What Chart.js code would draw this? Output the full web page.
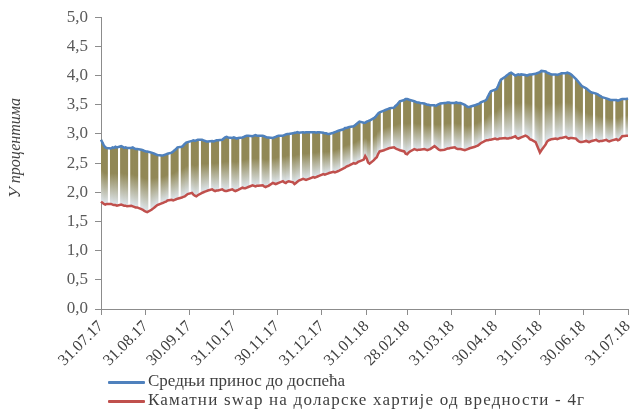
<!DOCTYPE html>
<html lang="sr">
<head>
<meta charset="UTF-8">
<title>Принос и каматни swap</title>
<script src="https://cdn.jsdelivr.net/npm/chart.js@4.4.1/dist/chart.umd.min.js"></script>
<style>
  body { margin: 0; background: #fff; }
  #wrap { position: relative; width: 635px; height: 414px; }
  #legend { position: absolute; left: 108px; top: 371px; font: 17px "Liberation Serif", "Times New Roman", serif; color: #404040; }
  #legend div { height: 19px; line-height: 19px; white-space: nowrap; }
  #legend div + div { letter-spacing: 1.2px; }
  #legend span { display: inline-block; width: 37px; height: 3px; vertical-align: middle; margin-right: 3px; border-radius: 1px; letter-spacing: 0; }
  #ytitle { position: absolute; left: 15px; top: 148px; transform: translate(-50%, -50%) rotate(-90deg);
            font: italic 16px "Liberation Serif", "Times New Roman", serif; color: #404040; white-space: nowrap;
            font-feature-settings: "locl" 0; }
</style>
</head>
<body>
<div id="wrap">
  <canvas id="chart" width="635" height="414"></canvas>
  <div id="ytitle" lang="ru">У процентима</div>
  <div id="legend"></div>
</div>
<script>
// series names
var seriesNames = ["Средњи принос до доспећа", "Каматни swap на доларске хартије од вредности - 4г"];

// month-end tick labels shown on the x axis
var tickLabels = ["31.07.17", "31.08.17", "30.09.17", "31.10.17", "30.11.17", "31.12.17",
                  "31.01.18", "28.02.18", "31.03.18", "30.04.18", "31.05.18", "30.06.18", "31.07.18"];

// working days from Mon 31.07.17 to Tue 31.07.18, one row per week (Mon..Fri), in %
var yieldVals = [
  2.90, 2.85, 2.80, 2.77, 2.76,
  2.75, 2.77, 2.76, 2.78, 2.77,
  2.79, 2.78, 2.76, 2.77, 2.76,
  2.76, 2.77, 2.75, 2.74, 2.74,
  2.73, 2.72, 2.71, 2.70, 2.70,
  2.68, 2.67, 2.66, 2.65, 2.64,
  2.63, 2.63, 2.64, 2.65, 2.66,
  2.68, 2.70, 2.72, 2.74, 2.77,
  2.78, 2.80, 2.83, 2.85, 2.86,
  2.88, 2.89, 2.88, 2.89, 2.90,
  2.90, 2.89, 2.88, 2.87, 2.87,
  2.88, 2.87, 2.88, 2.89, 2.89,
  2.90, 2.92, 2.94, 2.95, 2.94,
  2.93, 2.94, 2.93, 2.92, 2.93,
  2.94, 2.95, 2.96, 2.97, 2.97,
  2.96, 2.97, 2.98, 2.97, 2.97,
  2.97, 2.96, 2.95, 2.94, 2.94,
  2.93, 2.94, 2.95, 2.96, 2.97,
  2.97, 2.98, 2.99, 3.00, 3.00,
  3.01, 3.02, 3.02, 3.03, 3.02,
  3.03, 3.02, 3.03, 3.03, 3.03,
  3.03, 3.03, 3.02, 3.03, 3.03,
  3.02, 3.01, 3.01, 3.00, 3.00,
  3.02, 3.03, 3.04, 3.05, 3.06,
  3.08, 3.10, 3.10, 3.11, 3.12,
  3.13, 3.15, 3.17, 3.19, 3.21,
  3.19, 3.19, 3.21, 3.22, 3.23,
  3.27, 3.29, 3.32, 3.35, 3.37,
  3.40, 3.41, 3.42, 3.43, 3.44,
  3.45, 3.48, 3.50, 3.53, 3.56,
  3.58, 3.60, 3.60, 3.59, 3.58,
  3.56, 3.55, 3.54, 3.54, 3.53,
  3.52, 3.51, 3.50, 3.50, 3.49,
  3.49, 3.48, 3.50, 3.51, 3.52,
  3.53, 3.53, 3.54, 3.54, 3.53,
  3.53, 3.54, 3.53, 3.53, 3.53,
  3.50, 3.48, 3.46, 3.46, 3.47,
  3.49, 3.50, 3.51, 3.52, 3.54,
  3.57, 3.59, 3.64, 3.69, 3.73,
  3.76, 3.77, 3.82, 3.88, 3.93,
  3.98, 4.00, 4.02, 4.04, 4.05,
  4.00, 4.01, 4.02, 4.01, 4.02,
  4.01, 4.00, 4.01, 4.02, 4.02,
  4.03, 4.04, 4.05, 4.06, 4.08,
  4.07, 4.05, 4.04, 4.03, 4.02,
  4.02, 4.01, 4.02, 4.03, 4.04,
  4.04, 4.05, 4.04, 4.03, 4.01,
  3.94, 3.91, 3.88, 3.85, 3.82,
  3.78, 3.76, 3.74, 3.72, 3.71,
  3.69, 3.68, 3.66, 3.65, 3.63,
  3.61, 3.60, 3.59, 3.58, 3.58,
  3.58, 3.57, 3.58, 3.59, 3.60,
  3.60, 3.61
];

var swapVals = [
  1.84, 1.82, 1.80, 1.79, 1.80,
  1.80, 1.79, 1.78, 1.78, 1.77,
  1.79, 1.78, 1.77, 1.77, 1.76,
  1.77, 1.76, 1.75, 1.74, 1.74,
  1.71, 1.70, 1.68, 1.67, 1.66,
  1.70, 1.72, 1.74, 1.76, 1.78,
  1.81, 1.82, 1.83, 1.84, 1.86,
  1.87, 1.86, 1.87, 1.88, 1.89,
  1.91, 1.92, 1.93, 1.95, 1.97,
  1.99, 1.96, 1.94, 1.93, 1.95,
  1.99, 2.00, 2.01, 2.02, 2.03,
  2.05, 2.03, 2.02, 2.03, 2.03,
  2.05, 2.03, 2.02, 2.02, 2.03,
  2.05, 2.03, 2.02, 2.03, 2.04,
  2.08, 2.07, 2.07, 2.08, 2.09,
  2.12, 2.11, 2.10, 2.11, 2.11,
  2.12, 2.10, 2.09, 2.10, 2.11,
  2.16, 2.15, 2.14, 2.15, 2.16,
  2.19, 2.17, 2.16, 2.18, 2.19,
  2.17, 2.14, 2.16, 2.18, 2.20,
  2.23, 2.22, 2.21, 2.22, 2.23,
  2.26, 2.25, 2.26, 2.27, 2.28,
  2.31, 2.30, 2.31, 2.32, 2.33,
  2.35, 2.34, 2.35, 2.36, 2.37,
  2.41, 2.42, 2.44, 2.45, 2.46,
  2.50, 2.49, 2.50, 2.52, 2.53,
  2.56, 2.62, 2.58, 2.51, 2.49,
  2.55, 2.58, 2.60, 2.66, 2.70,
  2.72, 2.73, 2.74, 2.75, 2.76,
  2.77, 2.75, 2.74, 2.73, 2.72,
  2.70, 2.66, 2.65, 2.68, 2.70,
  2.74, 2.73, 2.72, 2.73, 2.73,
  2.74, 2.73, 2.72, 2.73, 2.74,
  2.79, 2.77, 2.75, 2.73, 2.72,
  2.73, 2.74, 2.75, 2.75, 2.76,
  2.77, 2.75, 2.74, 2.74, 2.74,
  2.72, 2.73, 2.74, 2.75, 2.76,
  2.78, 2.79, 2.80, 2.82, 2.84,
  2.88, 2.89, 2.89, 2.90, 2.90,
  2.92, 2.91, 2.91, 2.92, 2.92,
  2.93, 2.92, 2.92, 2.93, 2.93,
  2.96, 2.93, 2.92, 2.93, 2.94,
  2.97, 2.96, 2.94, 2.91, 2.90,
  2.86, 2.80, 2.74, 2.68, 2.72,
  2.82, 2.87, 2.89, 2.90, 2.91,
  2.92, 2.91, 2.92, 2.93, 2.93,
  2.95, 2.93, 2.92, 2.93, 2.93,
  2.92, 2.89, 2.87, 2.86, 2.86,
  2.88, 2.87, 2.86, 2.87, 2.88,
  2.90, 2.88, 2.87, 2.88, 2.88,
  2.90, 2.88, 2.87, 2.88, 2.89,
  2.91, 2.89, 2.90, 2.93, 2.96,
  2.97, 2.97
];

var blue = "rgb(79,129,189)";
var red = "rgb(192,80,77)";
var olive = "rgb(145,136,86)";
var pale = "rgb(224,232,240)";

// calendar days on the axis; weekends stay empty (null)
var labels = [], yieldDaily = [], swapDaily = [], bands = [];
var start = Date.UTC(2017, 6, 31), k = 0;
function pad(n) { return (n < 10 ? "0" : "") + n; }
for (var i = 0; i <= 365; i++) {
  var d = new Date(start + i * 864e5);
  labels.push(pad(d.getUTCDate()) + "." + pad(d.getUTCMonth() + 1) + "." + String(d.getUTCFullYear()).slice(2));
  var wd = d.getUTCDay();
  if (wd === 0 || wd === 6) {
    yieldDaily.push(null); swapDaily.push(null); bands.push(null);
  } else {
    yieldDaily.push(yieldVals[k]); swapDaily.push(swapVals[k]);
    bands.push([swapVals[k], yieldVals[k]]);
    k++;
  }
}

// gradient per bar: olive on top, fading to pale at the swap line
function bandFill(c) {
  var chart = c.chart;
  if (!chart.chartArea || c.type !== "data" || !c.raw) return olive;
  var ys = chart.scales.y;
  var top = ys.getPixelForValue(c.raw[1]), bot = ys.getPixelForValue(c.raw[0]);
  if (!isFinite(top) || !isFinite(bot) || bot - top < 1) return olive;
  var g = chart.ctx.createLinearGradient(0, top, 0, bot);
  g.addColorStop(0, olive);
  g.addColorStop(0.45, olive);
  g.addColorStop(1, pale);
  return g;
}

Chart.defaults.font.family = "'Liberation Serif', 'Times New Roman', serif";
Chart.defaults.color = "#595959";

new Chart(document.getElementById("chart"), {
  type: "bar",
  data: {
    labels: labels,
    datasets: [
      { type: "line", label: seriesNames[0], data: yieldDaily, borderColor: blue, borderWidth: 2.5,
        pointRadius: 0, spanGaps: true, tension: 0, order: 0 },
      { type: "line", label: seriesNames[1], data: swapDaily, borderColor: red, borderWidth: 2.5,
        pointRadius: 0, spanGaps: true, tension: 0, order: 1 },
      { type: "bar", label: "band", data: bands, backgroundColor: bandFill, borderWidth: 0,
        barPercentage: 1, categoryPercentage: 1, inflateAmount: 0.4, order: 2 }
    ]
  },
  options: {
    responsive: false,
    animation: false,
    layout: { padding: { left: 0, right: 7, top: 15, bottom: 45 } },
    plugins: { legend: { display: false }, tooltip: { enabled: false } },
    scales: {
      x: {
        offset: false,
        afterFit: function (s) { s.height = 60; s.paddingRight = 0; },
        grid: { display: true, drawOnChartArea: false, offset: false, tickLength: 6, color: "#8c8c8c" },
        border: { color: "#8c8c8c" },
        ticks: {
          autoSkip: false, maxRotation: 45, minRotation: 45, padding: 2,
          font: { size: 16 }, color: "#404040",
          callback: function (v, i) { return tickLabels.indexOf(labels[i]) >= 0 ? labels[i] : null; }
        }
      },
      y: {
        min: 0, max: 5,
        afterFit: function (s) { s.width = 101; },
        grid: { display: true, drawOnChartArea: false, tickLength: 6, color: "#8c8c8c" },
        border: { color: "#8c8c8c" },
        ticks: { stepSize: 0.5, padding: 7, font: { size: 17 }, color: "#595959",
                 callback: function (v) { return v.toFixed(1).replace(".", ","); } }
      }
    }
  }
});

// legend below the chart
var lg = document.getElementById("legend");
[blue, red].forEach(function (c, i) {
  var row = document.createElement("div");
  var sw = document.createElement("span");
  sw.style.background = c;
  row.appendChild(sw);
  row.appendChild(document.createTextNode(seriesNames[i]));
  lg.appendChild(row);
});
</script>
</body>
</html>
